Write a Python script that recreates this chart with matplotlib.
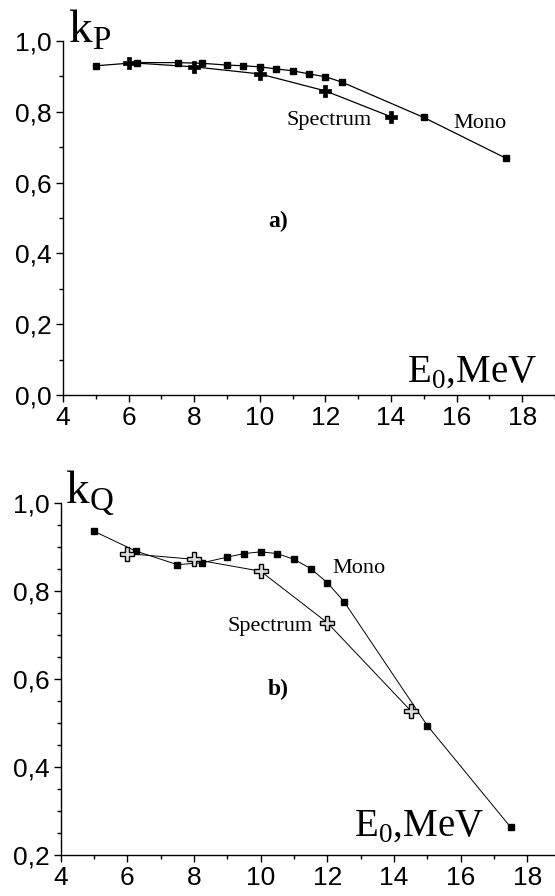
import matplotlib
matplotlib.use("Agg")
import matplotlib.pyplot as plt
from matplotlib.ticker import MultipleLocator, FuncFormatter

# ---- data ----
mono_a_x = [5, 6.25, 7.5, 8.25, 9, 9.5, 10, 10.5, 11, 11.5, 12, 12.5, 15, 17.5]
mono_a_y = [0.930, 0.939, 0.939, 0.937, 0.932, 0.930, 0.927, 0.921, 0.916, 0.907, 0.899, 0.884, 0.784, 0.669]
spec_a_x = [6, 8, 10, 12, 14]
spec_a_y = [0.939, 0.927, 0.907, 0.859, 0.786]

mono_b_x = [5, 6.25, 7.5, 8.25, 9, 9.5, 10, 10.5, 11, 11.5, 12, 12.5, 15, 17.5]
mono_b_y = [0.936, 0.891, 0.860, 0.864, 0.877, 0.885, 0.889, 0.885, 0.872, 0.851, 0.819, 0.776, 0.494, 0.263]
spec_b_x = [6, 8, 10, 12, 14.5]
spec_b_y = [0.885, 0.872, 0.845, 0.728, 0.528]

x_ticks = [4, 6, 8, 10, 12, 14, 16, 18]
y_ticks_a = [0.0, 0.2, 0.4, 0.6, 0.8, 1.0]
y_ticks_b = [0.2, 0.4, 0.6, 0.8, 1.0]

SANS = "Liberation Sans"
SERIF = "Liberation Serif"

fig = plt.figure(figsize=(5.55, 8.96), dpi=100)

W, H = 555.0, 896.0


def fx(px):
    return px / W


def fy(py):
    return 1 - py / H


def make_ax(left_px, top_px, bottom_px, xmax, ylo, yhi):
    ax = fig.add_axes([left_px / W, 1 - bottom_px / H, 1 - left_px / W, (bottom_px - top_px) / H])
    ax.set_xlim(4, xmax)
    ax.set_ylim(ylo, yhi)
    for s in ("top", "right"):
        ax.spines[s].set_visible(False)
    for s in ("left", "bottom"):
        ax.spines[s].set_linewidth(1.0)
    ax.set_xticks(x_ticks)
    ax.xaxis.set_minor_locator(MultipleLocator(1))
    ax.tick_params(which="major", length=5, width=1.0, labelsize=19, pad=3)
    ax.tick_params(which="minor", length=3, width=1.0)
    fmt = FuncFormatter(lambda v, p: ("%.1f" % v).replace(".", ","))
    ax.yaxis.set_major_formatter(fmt)
    return ax


# ---- panel a ----
ax1 = make_ax(63, 41, 395, 4 + (555 - 63) / 32.8, 0.0, 1.0)
ax1.set_yticks(y_ticks_a)
ax1.yaxis.set_minor_locator(MultipleLocator(0.1))
for lab in ax1.get_xticklabels() + ax1.get_yticklabels():
    lab.set_fontfamily(SANS)
ax1.plot(mono_a_x, mono_a_y, color="black", lw=0.9, marker="s", ms=5, clip_on=False)
ax1.plot(spec_a_x, spec_a_y, color="black", lw=0.9, marker="P", ms=8.5,
         mfc="black", mec="black", mew=0.5, clip_on=False, zorder=3)
fig.text(fx(480), fy(128), "Mono", fontfamily=SERIF, fontsize=16, ha="center", va="baseline")
fig.text(fx(329.5), fy(125), "Spectrum", fontfamily=SERIF, fontsize=16, ha="center", va="baseline")
fig.text(fx(278), fy(227), "a)", fontfamily=SERIF, fontsize=17, fontweight="bold",
         ha="center", va="baseline")
fig.text(fx(68), fy(42), r"k$_{\mathregular{P}}$", fontfamily=SERIF, fontsize=34,
         ha="left", va="baseline")
fig.text(fx(407), fy(382), r"E$_{\mathregular{0}}$,MeV", fontfamily=SERIF, fontsize=28,
         ha="left", va="baseline")

# ---- panel b ----
ax2 = make_ax(60.5, 503, 855, 4 + (555 - 60.5) / 33.35, 0.2, 1.0)
ax2.set_yticks(y_ticks_b)
ax2.yaxis.set_minor_locator(MultipleLocator(0.05))
for lab in ax2.get_xticklabels() + ax2.get_yticklabels():
    lab.set_fontfamily(SANS)
ax2.plot(mono_b_x, mono_b_y, color="black", lw=0.7, marker="s", ms=5, clip_on=False)
ax2.plot(spec_b_x, spec_b_y, color="black", lw=0.7, marker="P", ms=10,
         mfc="#dddddd", mec="black", mew=1.0, clip_on=False, zorder=3)
fig.text(fx(358.6), fy(573), "Mono", fontfamily=SERIF, fontsize=16, ha="center", va="baseline")
fig.text(fx(270), fy(631), "Spectrum", fontfamily=SERIF, fontsize=16, ha="center", va="baseline")
fig.text(fx(278), fy(695), "b)", fontfamily=SERIF, fontsize=17, fontweight="bold",
         ha="center", va="baseline")
fig.text(fx(65), fy(503), r"k$_{\mathregular{Q}}$", fontfamily=SERIF, fontsize=34,
         ha="left", va="baseline")
fig.text(fx(354), fy(836), r"E$_{\mathregular{0}}$,MeV", fontfamily=SERIF, fontsize=28,
         ha="left", va="baseline")

fig.savefig("out.png", dpi=100)
